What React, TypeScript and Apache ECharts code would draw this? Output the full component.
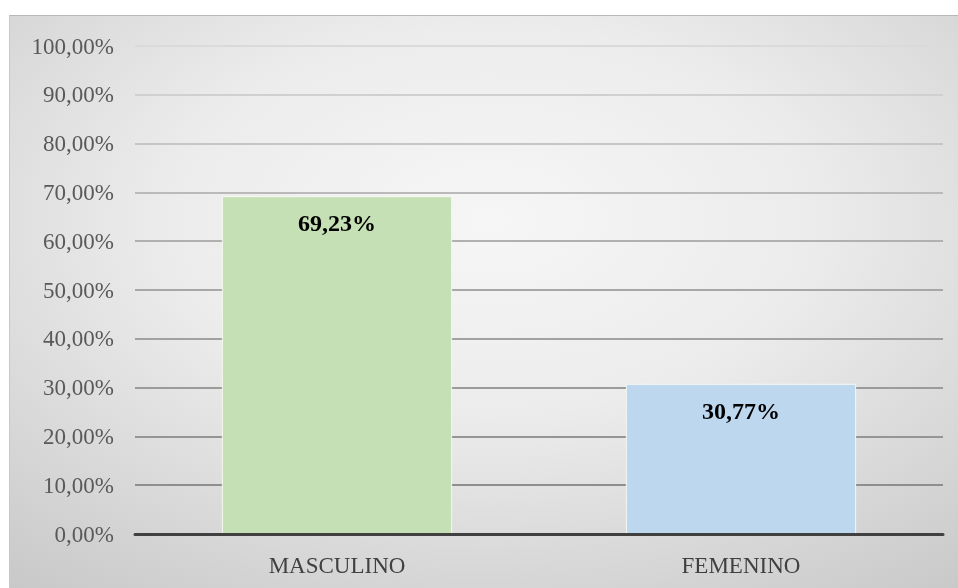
import React, { useEffect, useRef } from "react";
import * as echarts from "echarts";

const categories = ["MASCULINO", "FEMENINO"];
const values = [69.23, 30.77];
const barColors = ["#c5e0b4", "#bdd7ee"];
const yMin = 0;
const yMax = 100;
const yInterval = 10;

const fmt = (v: number) => v.toFixed(2).replace(".", ",") + "%";

export default function App() {
  const ref = useRef<HTMLDivElement>(null);
  useEffect(() => {
    if (!ref.current) return;
    const chart = echarts.init(ref.current, undefined, { renderer: "svg" });
    const font = "'Liberation Serif', 'Times New Roman', serif";
    chart.setOption({
      animation: false,
      backgroundColor: {
        type: "radial",
        x: 0.5,
        y: 0.35,
        r: 0.95,
        colorStops: [
          { offset: 0, color: "#f6f6f6" },
          { offset: 0.35, color: "#ececec" },
          { offset: 0.7, color: "#d3d3d3" },
          { offset: 1, color: "#bebebe" },
        ],
      },
      grid: { left: 125, right: 27, top: 30, bottom: 62, containLabel: false },
      xAxis: {
        type: "category",
        data: categories,
        axisTick: { show: false },
        axisLine: { show: true, lineStyle: { color: "#404040", width: 3 } },
        axisLabel: { color: "#404040", fontFamily: font, fontSize: 23, margin: 20 },
        z: 10,
      },
      yAxis: {
        type: "value",
        min: yMin,
        max: yMax,
        interval: yInterval,
        axisLine: { show: false },
        axisTick: { show: false },
        axisLabel: {
          color: "#595959",
          fontFamily: font,
          fontSize: 23,
          margin: 21,
          formatter: (v: number) => fmt(v),
        },
        splitLine: {
          show: true,
          lineStyle: {
            width: 2,
            color: [
              "#888888",
              "#8e8e8e",
              "#959595",
              "#9b9b9b",
              "#a1a1a1",
              "#a7a7a7",
              "#b0b0b0",
              "#bababa",
              "#c6c6c6",
              "#d0d0d0",
              "#dadada",
            ],
          },
        },
      },
      series: [
        {
          type: "bar",
          data: values.map((v, i) => ({ value: v, itemStyle: { color: barColors[i] } })),
          barWidth: "57%",
          itemStyle: { borderColor: "#f4f8f2", borderWidth: 1 },
          label: {
            show: true,
            position: "insideTop",
            distance: 15,
            color: "#000000",
            fontFamily: font,
            fontWeight: "bold",
            fontSize: 24,
            formatter: (p: any) => fmt(p.value),
          },
        },
      ],
    });
    return () => chart.dispose();
  }, []);
  return (
    <div
      ref={ref}
      style={{
        position: "fixed",
        left: 9,
        top: 15,
        width: 960,
        height: 580,
        borderTop: "1px solid #b8b8b8",
        borderLeft: "1px solid #c8c8c8",
      }}
    />
  );
}
